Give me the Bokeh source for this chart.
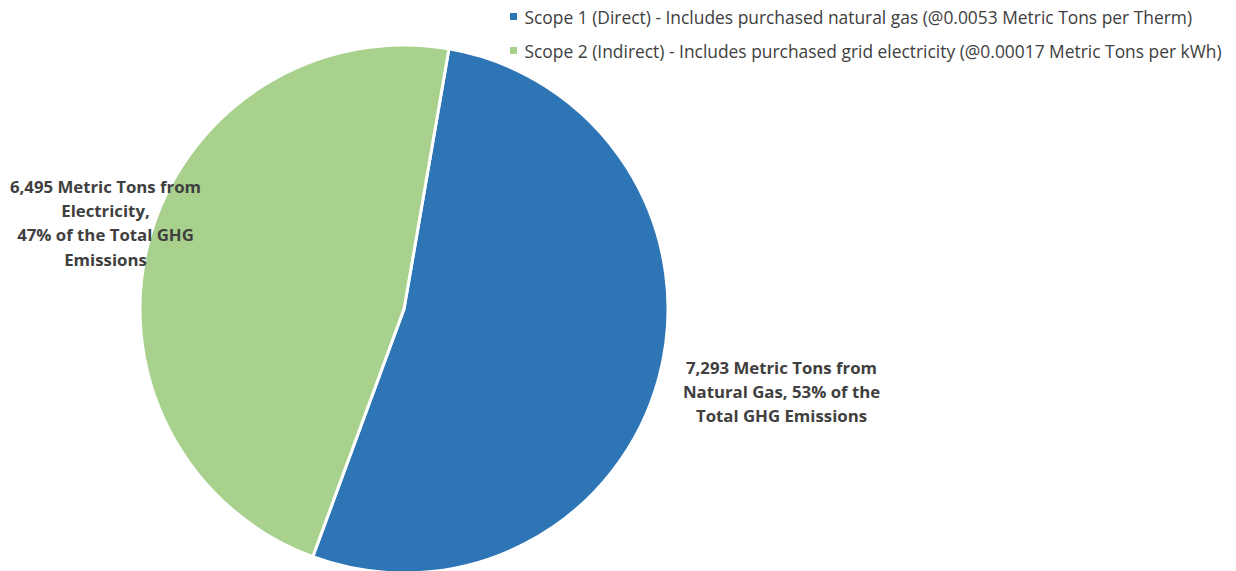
import math
from bokeh.plotting import figure
from bokeh.models import Range1d, ColumnDataSource
from bokeh.core.properties import value
from bokeh.embed import file_html
from bokeh.resources import INLINE

# ---- data ----
categories = ["Natural Gas", "Electricity"]
tons = [7293, 6495]
legend_labels = [
    "Scope 1 (Direct) - Includes purchased natural gas (@0.0053 Metric Tons per Therm)",
    "Scope 2 (Indirect) - Includes purchased grid electricity (@0.00017 Metric Tons per kWh)",
]
colors = ["#2E75B6", "#A9D18E"]
label_texts = [
    "7,293 Metric Tons from\nNatural Gas, 53% of the\nTotal GHG Emissions",
    "6,495 Metric Tons from\nElectricity,\n47% of the Total GHG\nEmissions",
]

W, H = 1236, 571
FONT = "Open Sans"
p = figure(width=W, height=H, output_backend="svg", toolbar_location=None,
           x_range=Range1d(0, W), y_range=Range1d(0, H),
           min_border=0, outline_line_color=None)
p.axis.visible = False
p.grid.visible = False
p.background_fill_color = "white"
p.border_fill_color = "white"

total = sum(tons)
first_angle = math.radians(90 - 9.8)  # Excel-style first slice rotation
starts, ends = [], []
a = first_angle
for t in tons:
    frac = t / total
    starts.append(a)
    a = a - frac * 2 * math.pi
    ends.append(a)

cx, cy, r = 403.5, H - 308.5, 264
src = ColumnDataSource(dict(start=starts, end=ends, color=colors,
                            x=[cx] * 2, y=[cy] * 2))
p.wedge(x="x", y="y", radius=r, radius_units="screen", start_angle="end",
        end_angle="start", fill_color="color", line_color="white",
        line_width=3, source=src)

# data labels
p.text(x=[781], y=[H - 355], text=[label_texts[0]], text_align="center",
       text_baseline="top", text_font=value(FONT), text_font_style="bold",
       text_font_size="16.8px", text_color="#404040", text_line_height=1.06)
p.text(x=[105], y=[H - 174], text=[label_texts[1]], text_align="center",
       text_baseline="top", text_font=value(FONT), text_font_style="bold",
       text_font_size="16.8px", text_color="#404040", text_line_height=1.06)

# legend
leg_y = [H - 16, H - 50]
p.scatter(x=[513, 513], y=leg_y, marker="square", size=7, color=colors,
          line_color=None)
p.text(x=[524, 524], y=leg_y, text=legend_labels, text_baseline="middle",
       text_font=value(FONT), text_font_size="17.4px", text_color="#404040")

open("out.html", "w").write(file_html(p, INLINE))
